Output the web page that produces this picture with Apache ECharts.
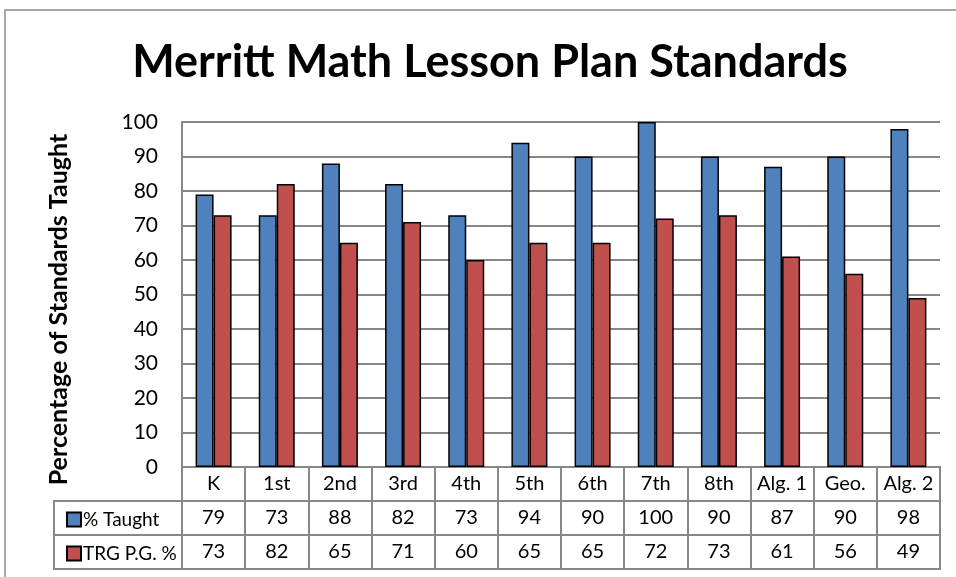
<!DOCTYPE html>
<html>
<head>
<meta charset="utf-8">
<script src="https://cdn.jsdelivr.net/npm/echarts@6/dist/echarts.min.js"></script>
<style>
  html, body { margin: 0; padding: 0; background: #fff; }
  #chart { width: 956px; height: 577px; }
</style>
</head>
<body>
<div id="chart"></div>
<script>
// Merritt Math lesson plans - bars plus an Excel style data table
var categories = ['K', '1st', '2nd', '3rd', '4th', '5th', '6th', '7th', '8th', 'Alg. 1', 'Geo.', 'Alg. 2'];
var taught = [79, 73, 88, 82, 73, 94, 90, 100, 90, 87, 90, 98];
var trgPG = [73, 82, 65, 71, 60, 65, 65, 72, 73, 61, 56, 49];
var seriesNames = ['% Taught', 'TRG P.G. %'];
var yTicks = [0, 100, 10];

var FONT = 'Lato';
var gridGray = '#878787';
var blue = '#4F81BD';
var red = '#C0504D';

var chart = echarts.init(document.getElementById('chart'));

// a row of the data table is a thin grid whose category labels are the cell texts
function tableAxis(idx, labels) {
  return {
    type: 'category', gridIndex: idx, data: labels,
    axisLine: { show: false }, axisTick: { show: false },
    splitLine: { show: true, interval: 0, lineStyle: { color: gridGray, width: 2 } },
    axisLabel: { interval: 0, margin: -17, verticalAlign: 'middle', fontFamily: FONT, fontSize: 20, color: '#000' }
  };
}
function hiddenY(idx) {
  return { type: 'value', gridIndex: idx, min: 0, max: 1, show: false };
}

var option = {
  animation: false,
  title: {
    text: 'Merritt Math Lesson Plan Standards',
    left: 485, top: 35, textAlign: 'center',
    textStyle: { fontFamily: FONT, fontWeight: 'bold', fontSize: 45, color: '#000' }
  },
  legend: {
    data: seriesNames,
    orient: 'vertical', left: 61, top: 505, itemGap: 15,
    itemWidth: 14, itemHeight: 14, icon: 'rect',
    textStyle: { fontFamily: FONT, fontSize: 19, color: '#000', padding: [0, 0, 0, -3] }
  },
  graphic: [{
    type: 'rect', shape: { x: 5, y: 10, width: 1000, height: 600 },
    style: { fill: null, stroke: '#8a8a8a', lineWidth: 1.5 }, silent: true
  }],
  grid: [
    { left: 182, right: 16, top: 122, bottom: 110 },
    { left: 182, right: 16, top: 467, height: 34, show: true, borderColor: gridGray, borderWidth: 2 },
    { left: 182, right: 16, top: 501, height: 34, show: true, borderColor: gridGray, borderWidth: 2 },
    { left: 182, right: 16, top: 535, height: 34, show: true, borderColor: gridGray, borderWidth: 2 },
    { left: 54, width: 128, top: 501, height: 68, show: true, borderColor: gridGray, borderWidth: 2 }
  ],
  xAxis: [
    { type: 'category', gridIndex: 0, data: categories,
      axisLine: { show: false }, axisTick: { show: false }, axisLabel: { show: false } },
    tableAxis(1, categories),
    tableAxis(2, taught.map(String)),
    tableAxis(3, trgPG.map(String)),
    { type: 'value', gridIndex: 4, show: false }
  ],
  yAxis: [
    { type: 'value', gridIndex: 0, min: yTicks[0], max: yTicks[1], interval: yTicks[2],
      name: 'Percentage of Standards Taught', nameLocation: 'middle', nameGap: 111,
      nameTextStyle: { fontFamily: FONT, fontWeight: 'bold', fontSize: 25, color: '#000', padding: [0, 30, 0, 0] },
      axisLine: { show: true, lineStyle: { color: gridGray, width: 2 } },
      axisTick: { show: false },
      axisLabel: { margin: 24, fontFamily: FONT, fontSize: 21, color: '#000' },
      splitLine: { lineStyle: { color: gridGray, width: 2 } } },
    hiddenY(1), hiddenY(2), hiddenY(3),
    { type: 'category', gridIndex: 4, data: seriesNames, show: true,
      axisLine: { show: false }, axisTick: { show: false }, axisLabel: { show: false },
      splitLine: { show: true, interval: 0, lineStyle: { color: gridGray, width: 2 } } }
  ],
  series: [
    { name: seriesNames[0], type: 'bar', xAxisIndex: 0, yAxisIndex: 0, data: taught,
      barWidth: 18, barGap: '0%',
      itemStyle: { color: blue, borderColor: '#000', borderWidth: 1.5 } },
    { name: seriesNames[1], type: 'bar', xAxisIndex: 0, yAxisIndex: 0, data: trgPG,
      barWidth: 18, barGap: '0%',
      itemStyle: { color: red, borderColor: '#000', borderWidth: 1.5 } }
  ]
};
chart.setOption(option);
window.addEventListener('resize', function () { chart.resize(); });
</script>
</body>
</html>
